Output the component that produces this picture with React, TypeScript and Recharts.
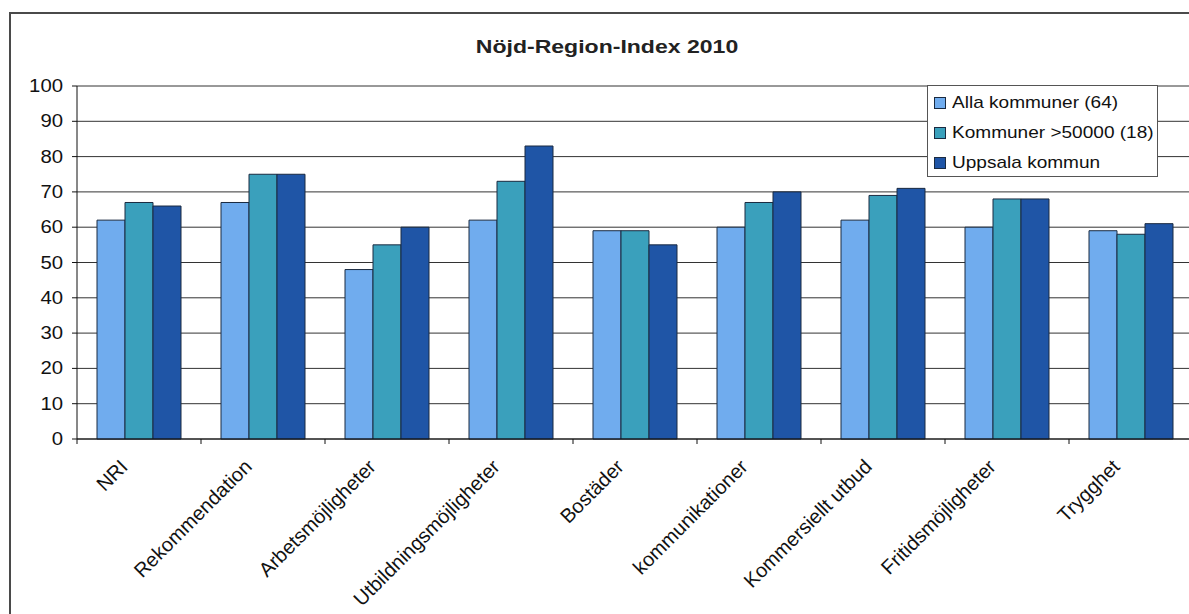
import React from 'react';
import { BarChart, Bar, XAxis, YAxis, CartesianGrid, Legend } from 'recharts';

const categories = ['NRI', 'Rekommendation', 'Arbetsmöjligheter', 'Utbildningsmöjligheter', 'Bostäder', 'kommunikationer', 'Kommersiellt utbud', 'Fritidsmöjligheter', 'Trygghet'];
const allaKommuner = [62, 67, 48, 62, 59, 60, 62, 60, 59];
const kommunerOver50000 = [67, 75, 55, 73, 59, 67, 69, 68, 58];
const uppsalaKommun = [66, 75, 60, 83, 55, 70, 71, 68, 61];
const yTicks = [0, 10, 20, 30, 40, 50, 60, 70, 80, 90, 100];
const seriesNames = ['Alla kommuner (64)', 'Kommuner >50000 (18)', 'Uppsala kommun'];
const title = 'Nöjd-Region-Index 2010';

const data = categories.map((name, i) => ({
  name,
  alla: allaKommuner[i],
  over: kommunerOver50000[i],
  uppsala: uppsalaKommun[i],
}));

const FONT = "'Liberation Sans', Arial, sans-serif";
const C_LIGHT = '#70acee';
const C_TEAL = '#3aa0bc';
const C_DARK = '#1f55a6';
const C_STROKE = '#1a2a40';

const YTick = (props: any) => {
  const { x, y, payload } = props;
  return (
    <text
      x={0}
      y={0}
      transform={`translate(${x},${y}) scale(1.13,1)`}
      textAnchor="end"
      dominantBaseline="central"
      fontSize={18}
      fontFamily={FONT}
      fill="#111"
    >
      {payload.value}
    </text>
  );
};

const XTick = (props: any) => {
  const { x, y, payload } = props;
  const half = typeof payload.offset === 'number' ? payload.offset : 62;
  const bx = x - half;
  return (
    <g>
      <line x1={bx} y1={y} x2={bx} y2={y + 5} stroke="#111" strokeWidth={1} />
      <text
        x={0}
        y={0}
        transform={`translate(${x - 10},${y + 29}) rotate(-45)`}
        textAnchor="end"
        fontSize={20}
        fontFamily={FONT}
        fill="#111"
      >
        {payload.value}
      </text>
    </g>
  );
};

const LegendContent = (props: any) => {
  const { payload } = props;
  return (
    <div
      style={{
        width: 229,
        height: 90,
        border: '1px solid #555',
        background: '#fff',
        boxSizing: 'content-box',
        position: 'relative',
        fontFamily: FONT,
      }}
    >
      {(payload || []).map((entry: any, i: number) => (
        <div
          key={i}
          style={{
            position: 'absolute',
            left: 6,
            top: 17 + i * 30,
            height: 0,
            display: 'flex',
            alignItems: 'center',
          }}
        >
          <span
            style={{
              display: 'inline-block',
              width: 10,
              height: 10,
              background: entry.color,
              border: '1px solid #1a2a40',
              marginRight: 6,
            }}
          />
          <span
            style={{
              fontSize: 17,
              color: '#111',
              whiteSpace: 'nowrap',
              display: 'inline-block',
              transform: 'scaleX(1.12)',
              transformOrigin: 'left center',
              lineHeight: '20px',
            }}
          >
            {entry.value}
          </span>
        </div>
      ))}
    </div>
  );
};

export default function App() {
  return (
    <div
      style={{
        position: 'absolute',
        left: 0,
        top: 0,
        width: 1189,
        height: 614,
        overflow: 'hidden',
        background: '#fff',
      }}
    >
      <div
        style={{
          position: 'absolute',
          left: 9,
          top: 12,
          width: 1220,
          height: 640,
          border: '2px solid #4a4a4a',
          boxSizing: 'border-box',
        }}
      />
      <div
        style={{
          position: 'absolute',
          left: 607,
          top: 47,
          transform: 'translate(-50%, -50%) scaleX(1.28)',
          fontFamily: FONT,
          fontWeight: 'bold',
          fontSize: 18,
          color: '#222',
          whiteSpace: 'nowrap',
        }}
      >
        {title}
      </div>
      <div style={{ position: 'absolute', left: 0, top: 0 }}>
        <BarChart
          width={1200}
          height={614}
          data={data}
          margin={{ top: 86, right: 7, bottom: 0, left: 0 }}
          barCategoryGap={20}
          barGap={0}
        >
          <CartesianGrid vertical={false} stroke="#333" strokeWidth={1} />
          <XAxis
            dataKey="name"
            interval={0}
            height={175}
            tickLine={false}
            tickSize={0}
            tickMargin={0}
            axisLine={{ stroke: '#111', strokeWidth: 1 }}
            tick={<XTick />}
          />
          <YAxis
            width={77}
            domain={[0, 100]}
            ticks={yTicks}
            interval={0}
            tickSize={5}
            tickMargin={9}
            tickLine={{ stroke: '#111' }}
            axisLine={{ stroke: '#111', strokeWidth: 1 }}
            tick={<YTick />}
          />
          <Legend
            layout="vertical"
            align="center"
            verticalAlign="middle"
            wrapperStyle={{ left: 927, top: 85, width: 231, height: 92 }}
            content={<LegendContent />}
          />
          <Bar dataKey="alla" name={seriesNames[0]} fill={C_LIGHT} stroke={C_STROKE} strokeWidth={1} isAnimationActive={false} />
          <Bar dataKey="over" name={seriesNames[1]} fill={C_TEAL} stroke={C_STROKE} strokeWidth={1} isAnimationActive={false} />
          <Bar dataKey="uppsala" name={seriesNames[2]} fill={C_DARK} stroke={C_STROKE} strokeWidth={1} isAnimationActive={false} />
        </BarChart>
      </div>
    </div>
  );
}
